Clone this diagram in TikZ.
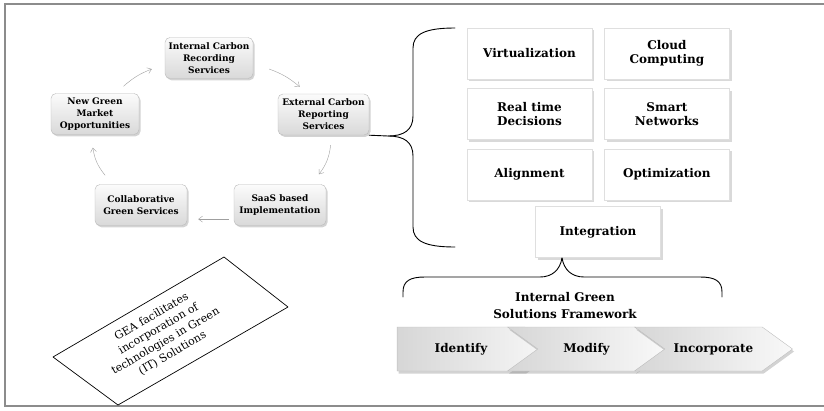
\documentclass[tikz,border=0pt]{standalone}
\usepackage{fontspec}
\setmainfont{DejaVu Serif}
\usetikzlibrary{arrows.meta, calc, positioning, shadows, shapes.symbols}

\tikzset{
  cycbox/.style={draw=gray!55, rounded corners=5pt, top color=gray!3, bottom color=gray!30,
    drop shadow={opacity=0.35, shadow xshift=1.5pt, shadow yshift=-1.8pt},
    minimum width=88pt, minimum height=41pt, inner xsep=1pt, align=center,
    font=\fontsize{9}{12}\selectfont\bfseries},
  techbox/.style={draw=gray!25, fill=white,
    drop shadow={opacity=0.3, shadow xshift=2.2pt, shadow yshift=-2.2pt},
    minimum width=125pt, minimum height=51pt, align=center,
    font=\fontsize{12}{13.5}\selectfont\bfseries},
  chevbox/.style={signal, signal to=east, signal pointer angle=72, draw=gray!50,
    left color=gray!32, right color=gray!5,
    drop shadow={opacity=0.35, shadow xshift=1.5pt, shadow yshift=-2.5pt},
    minimum width=158pt, minimum height=44pt, inner sep=0pt,
    font=\fontsize{12}{13}\selectfont\bfseries},
  cyc/.style={gray!75, -{Straight Barb[length=4pt, width=6pt]}},
  brace/.style={line width=0.9pt, line cap=round},
  frame/.style={black!45, line width=2pt}
}

\begin{document}
\begin{tikzpicture}[x=1pt, y=-1pt]
    \useasboundingbox (0,0) rectangle (824,410);
    \draw[frame] (824,4) -- (5,4) -- (5,406) -- (824,406);

    % cycle of services
    \node[cycbox] (intc) at (209,58) {Internal Carbon\\Recording\\Services};
    \node[cycbox, minimum width=91pt] (ext) at (323.5,114.5) {External Carbon\\Reporting\\Services};
    \node[cycbox, minimum width=92pt] (saas) at (280,205) {SaaS based\\Implementation};
    \node[cycbox, minimum width=92pt] (collab) at (141,205) {Collaborative\\Green Services};
    \node[cycbox] (newg) at (95,114) {New Green\\Market\\Opportunities};

    \draw[cyc] ([yshift=7pt]newg.36) to[bend left=10] ([xshift=-13pt]intc.194);
    \draw[cyc] ([xshift=16pt]intc.-14) to[bend left=10] ([yshift=7pt]ext.139);
    \draw[cyc] ([yshift=-10pt]ext.-71) to[bend left=15] ([yshift=10pt]saas.28);
    \draw[cyc] ([xshift=-5pt]saas.197) -- ([xshift=11pt]collab.-17);
    \draw[cyc] ([yshift=9pt]collab.150) to[bend left=15] ([yshift=-13pt]newg.-96);

    % technologies
    \node[techbox] (virt) at (529.5,53.5) {Virtualization};
    \node[techbox, right=12pt of virt] (cloud) {Cloud\\Computing};
    \node[techbox, below=9pt of virt] (rtd) {Real time\\Decisions};
    \node[techbox, below=9pt of cloud] (smart) {Smart\\Networks};
    \node[techbox, below=9pt of rtd] (align) {Alignment};
    \node[techbox, below=9pt of smart] (optim) {Optimization};
    \node[techbox] (integ) at (598,232) {Integration};

    % big brace
    \coordinate (btip) at (388,136);
    \draw[brace] (ext.south east) -- (btip) .. controls (404,136) and (413,130) .. (413,116)
        -- (413,48) .. controls (413,34) and (425,28) .. (455,28);
    \draw[brace] (btip) .. controls (404,136) and (413,142) .. (413,156)
        -- (413,227) .. controls (413,241) and (425,247) .. (455,247);

    % framework
    \coordinate (ftip) at (562,258);
    \draw[brace] (403,297) -- (403,292) .. controls (403,281) and (410,277) .. (425,277)
        -- (540,277) .. controls (552,277) and (560,270) .. (ftip);
    \draw[brace] (ftip) .. controls (564,270) and (572,277) .. (584,277)
        -- (700,277) .. controls (715,277) and (722,281) .. (722,292) -- (722,297);
    \node[align=center, font=\fontsize{12}{17}\selectfont\bfseries] (igsf) at (565,306)
        {Internal Green\\Solutions Framework};

    \node[chevbox] (ident) at (461,349) {Identify};
    \node[chevbox, signal from=west] (modif) at (586.5,349) {Modify};
    \node[chevbox, signal from=west] (incorp) at (713.5,349) {Incorporate};

    % note (slanted box)
    \draw[line width=0.7pt, line join=round] (53,357) -- (224,257) -- (288,307) -- (118,405) -- cycle;
    \node[rotate=30, align=center, inner sep=0pt, font=\fontsize{11}{14}\selectfont] (gea) at (162,335)
        {GEA facilitates\\incorporation of\\technologies in Green\\(IT) Solutions};
\end{tikzpicture}
\end{document}
